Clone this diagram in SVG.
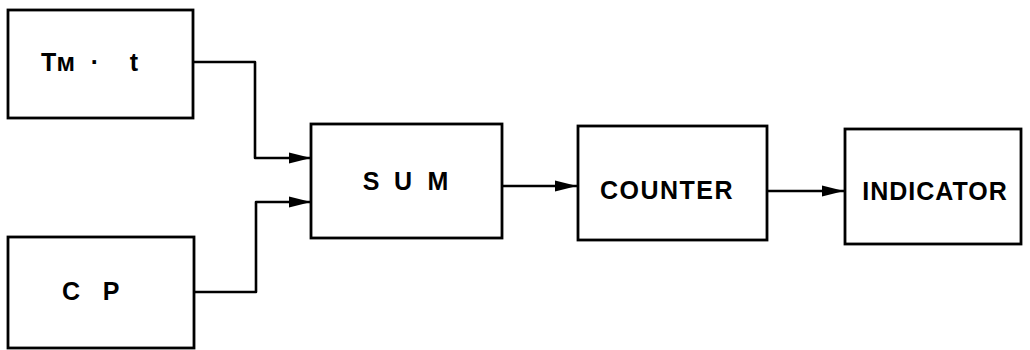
<svg xmlns="http://www.w3.org/2000/svg" width="1030" height="350" viewBox="0 0 1030 350">
<style>
.box{fill:#fff;stroke:#000;stroke-width:2.8}
.wire{fill:none;stroke:#000;stroke-width:2.6;stroke-linejoin:round}
text{font-family:"Liberation Sans",Arial,sans-serif;font-weight:bold;font-size:25px;fill:#000;text-anchor:middle;dominant-baseline:central}
</style>
<defs>
<marker id="arr" markerUnits="userSpaceOnUse" markerWidth="26" markerHeight="16" refX="22" refY="8" orient="auto">
<path d="M0,2.5 L22,8 L0,13.5 Z" fill="#000"/>
</marker>
</defs>
<rect width="1030" height="350" fill="#fff"/>
<g id="connectors">
<path class="wire" d="M193,62 H255 V158 H311" marker-end="url(#arr)"/>
<path class="wire" d="M194,292 H256 V202 H311" marker-end="url(#arr)"/>
<path class="wire" d="M502,186 H577" marker-end="url(#arr)"/>
<path class="wire" d="M767,191 H844" marker-end="url(#arr)"/>
</g>
<g id="tmt">
<rect class="box" x="8" y="10" width="185" height="108"/>
<text y="62"><tspan x="58">Tм</tspan><tspan x="95">·</tspan><tspan x="134">t</tspan></text>
</g>
<g id="cp">
<rect class="box" x="8" y="237" width="186" height="111"/>
<text y="291"><tspan x="71">C</tspan><tspan x="111">P</tspan></text>
</g>
<g id="sum">
<rect class="box" x="311" y="124" width="191" height="114"/>
<text y="181"><tspan x="371">S</tspan><tspan x="403">U</tspan><tspan x="438">M</tspan></text>
</g>
<g id="counter">
<rect class="box" x="578" y="126" width="189" height="114"/>
<text x="667" y="190" style="letter-spacing:1.5px">COUNTER</text>
</g>
<g id="indicator">
<rect class="box" x="845" y="129" width="176" height="115"/>
<text x="935" y="191" style="letter-spacing:1px">INDICATOR</text>
</g>
</svg>
